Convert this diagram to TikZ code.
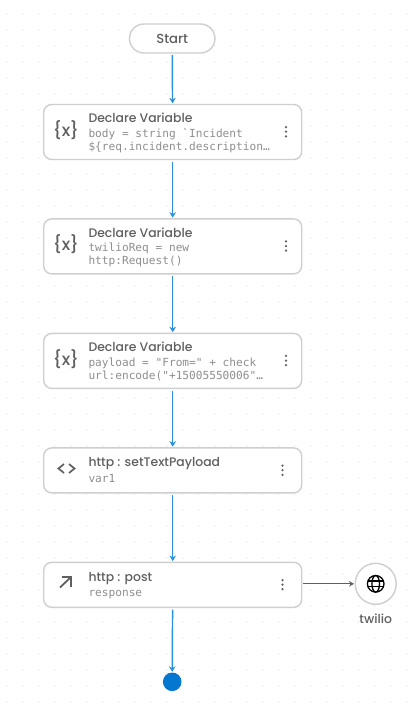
\documentclass[tikz,border=0pt]{standalone}
\usepackage{fontspec}
\setmainfont{Poppins Medium}
\newfontfamily\monof{DejaVu Sans Mono}
\usetikzlibrary{arrows.meta}
\definecolor{edgeblue}{HTML}{2A8FDC}
\definecolor{dotblue}{HTML}{0477D0}
\definecolor{boxline}{HTML}{CFCFCF}
\definecolor{ttl}{HTML}{5F5F5F}
\definecolor{sub}{HTML}{8E8E8E}
\definecolor{griddot}{HTML}{E8E8E8}
\tikzset{
  x=1pt,y=-1pt,
  card/.style={draw=boxline,line width=1.4pt,fill=white,rounded corners=8pt,inner sep=0pt,anchor=north west},
  flow/.style={edgeblue,line width=1.45pt,-{Stealth[length=5.5pt,width=6.5pt]},shorten <=1.5pt,shorten >=0.5pt},
  ext/.style={ttl,line width=1.1pt,-{Stealth[length=5pt,width=5.5pt]},shorten <=0.5pt,shorten >=0.5pt},
  title/.style={font=\fontsize{12.4}{14}\selectfont,text=ttl,anchor=base west,inner sep=0pt},
  subline/.style={font=\monof\fontsize{11.15}{13}\selectfont,text=sub,anchor=base west,inner sep=0pt},
  iconx/.style={font=\fontsize{17}{19}\selectfont,text=ttl,inner sep=0pt},
  kebab/.style={fill=ttl,radius=1.25pt},
}
\begin{document}
\begin{tikzpicture}
\useasboundingbox (0,0) rectangle (409,716);
\fill[white] (0,0) rectangle (409,716);
\foreach \i in {0,...,25}{\foreach \j in {0,...,43}{
  \fill[griddot] (6.7+16*\i,14+16*\j) circle (0.8pt);}}
% nodes
\node[draw=boxline,line width=1.4pt,fill=white,rounded corners=14.5pt,minimum width=85.5pt,minimum height=29pt,inner sep=0pt,font=\fontsize{13.2}{15}\selectfont,text=ttl] (start) at (172.2,38.5) {\raisebox{-0.8pt}{Start}};
\node[card,minimum width=258pt,minimum height=55pt] (b1) at (43,103.8) {};
\node[card,minimum width=258pt,minimum height=55pt] (b2) at (43,218.2) {};
\node[card,minimum width=258pt,minimum height=55pt] (b3) at (43,332.7) {};
\node[card,minimum width=258pt,minimum height=45pt] (b4) at (43,447.2) {};
\node[card,minimum width=258pt,minimum height=45pt] (b5) at (43,561.6) {};
\node[circle,draw=boxline,line width=1.4pt,fill=white,minimum size=41pt,inner sep=0pt] (web) at (375.7,583.8) {};
\node[circle,fill=dotblue,minimum size=18.6pt,inner sep=0pt] (stop) at (172.2,681.8) {};
% connectors
\draw[flow] (start) -- (b1);
\draw[flow] (b1) -- (b2);
\draw[flow] (b2) -- (b3);
\draw[flow] (b3) -- (b4);
\draw[flow] (b4) -- (b5);
\draw[flow] (b5) -- (stop);
\draw[ext] (b5.east |- web) -- (web);
% card 1
\node[iconx] (i1) at (66,130) {\{x\}};
\node[title] (t1) at (88.3,122.6) {Declare Variable};
\node[subline] (s1a) at (88.3,137) {body = string `Incident};
\node[subline] (s1b) at (88.3,150) {\$\{req.incident.description…};
% card 2
\node[iconx] (i2) at (66,244.5) {\{x\}};
\node[title] (t2) at (88.3,237) {Declare Variable};
\node[subline] (s2a) at (88.3,251.4) {twilioReq = new};
\node[subline] (s2b) at (88.3,264.4) {http:Request()};
% card 3
\node[iconx] (i3) at (66,359) {\{x\}};
\node[title] (t3) at (88.3,351.5) {Declare Variable};
\node[subline] (s3a) at (88.3,366) {payload = "From=" + check};
\node[subline] (s3b) at (88.3,379) {url:encode("+15005550006"…};
% card 4
\node[title] (t4) at (88.3,466.8) {http : setTextPayload};
\node[subline] (s4) at (88.3,482.2) {var1};
\draw[ttl,line width=1.7pt] (64,464) -- (58.5,468.5) -- (64,473);
\draw[ttl,line width=1.7pt] (69,464) -- (74.5,468.5) -- (69,473);
% card 5
\node[title] (t5) at (88.3,581.4) {http : post};
\node[subline] (s5) at (88.3,596.8) {response};
\draw[ttl,line width=1.8pt] (60,587.5) -- (71,577);
\draw[ttl,line width=1.8pt] (61.5,577) -- (71,577) -- (71,586.5);
% kebabs
\foreach \x/\y in {286/131.7,286/246,286/360.5,282.5/470.2,282.5/584.6}{
  \fill[kebab] (\x,\y-4.6) circle[];
  \fill[kebab] (\x,\y) circle[];
  \fill[kebab] (\x,\y+4.6) circle[];
}
% globe
\draw[black,line width=1.3pt] (375.7,583.8) circle (8.3pt);
\draw[black,line width=1.3pt] (375.7,583.8) ellipse (3.8pt and 8.3pt);
\draw[black,line width=1.3pt] (367.8,581) -- (383.6,581);
\draw[black,line width=1.3pt] (367.8,586.6) -- (383.6,586.6);
\node[font=\fontsize{12.4}{14}\selectfont,text=ttl,inner sep=0pt] (lbl) at (375.7,618.5) {twilio};
\end{tikzpicture}
\end{document}
